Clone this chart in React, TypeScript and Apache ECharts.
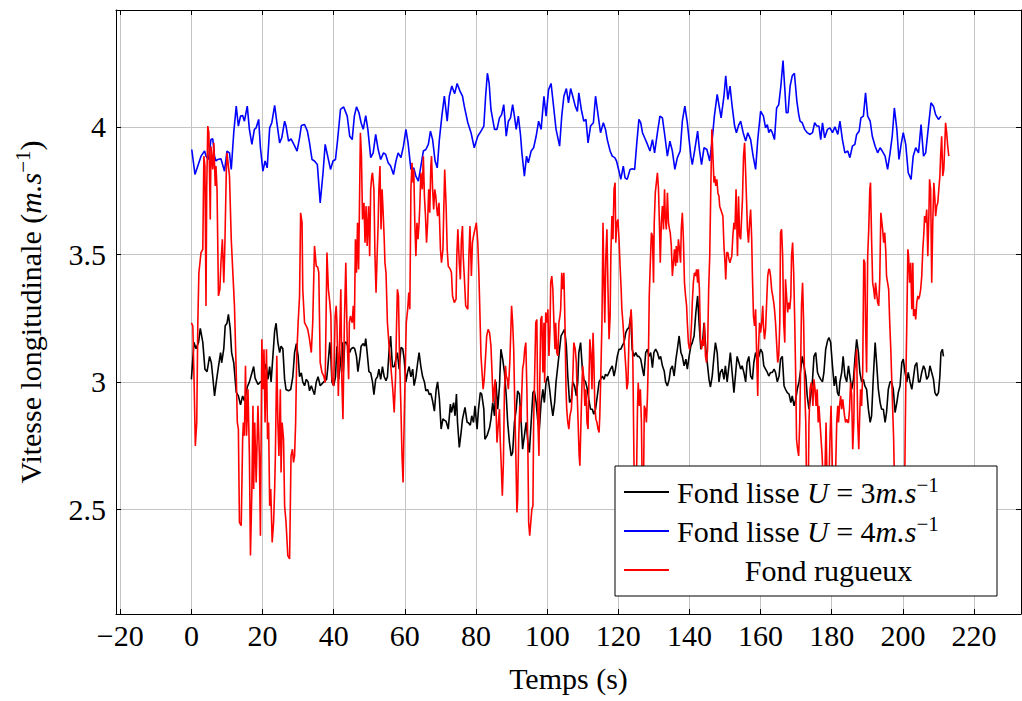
import React, { useEffect, useRef } from 'react';
import * as echarts from 'echarts';

const FONT = '"Liberation Serif", "DejaVu Serif", serif';

const X_MIN = -21.2;
const X_MAX = 233.2;
const Y_MIN = 2.09;
const Y_MAX = 4.458;
const xTickValues = [-20, 0, 20, 40, 60, 80, 100, 120, 140, 160, 180, 200, 220];
const yTickValues = [2.5, 3, 3.5, 4];

const seriesNames = ['Fond lisse U = 3m.s-1', 'Fond lisse U = 4m.s-1', 'Fond rugueux'];
const legendLabels = [
  'Fond lisse {i|U} = 3{i|m.s}{s|\u22121}',
  'Fond lisse {i|U} = 4{i|m.s}{s|\u22121}',
  '{c|Fond rugueux}',
];
const yAxisTitle = 'Vitesse longitudinale ({i|m.s}{s|\u22121})';
const xAxisTitle = 'Temps (s)';

// Fond lisse U = 3 m/s  [time, velocity]
const smooth3: number[][] = [
[0,3.01],[0.7,3.155],[1.3,3.13],[2.0,3.155],[2.5,3.21],[3.2,3.155],[3.8,3.05],[4.4,3.04],[5.1,3.1],[5.6,3.075],[6.0,3.02],[6.5,2.945],[7.0,3.0],[7.6,3.06],[8.2,3.115],[8.5,3.075],[9.1,3.13],[9.5,3.22],[10.0,3.23],[10.4,3.265],[10.9,3.21],[11.3,3.115],[11.9,3.075],[12.6,2.96],[13.2,2.945],[13.8,2.91],[14.4,2.945],[14.9,2.925],[15.7,2.98],[16.3,3.0],[16.9,3.03],[17.5,3.06],[17.9,3.015],[18.7,2.99],[19.4,3.0],[19.9,3.0],[20.5,3.045],[21.0,3.07],[21.5,3.01],[22.0,3.06],[22.4,3.0],[22.9,3.1],[23.4,3.2],[23.8,3.23],[24.3,3.155],[24.8,3.115],[25.2,3.14],[25.7,3.13],[26.2,3.01],[26.6,2.97],[27.3,2.965],[27.9,2.97],[28.5,3.02],[29.0,3.115],[29.5,3.15],[30.0,3.1],[30.4,3.02],[30.9,3.035],[31.3,3.0],[31.8,2.985],[32.3,3.01],[32.8,3.0],[33.2,2.965],[33.7,2.985],[34.2,2.965],[34.6,2.95],[35.1,3.0],[35.6,3.02],[36.2,2.985],[37.2,3.0],[38.0,3.01],[38.3,3.05],[38.9,3.155],[39.2,3.1],[39.5,3.0],[40.0,2.985],[40.5,3.02],[40.9,3.14],[41.4,3.01],[41.9,3.075],[42.4,3.155],[42.7,3.04],[43.1,3.155],[43.5,3.155],[44.0,3.14],[44.5,3.115],[44.9,3.13],[45.5,3.135],[45.9,3.13],[46.4,3.1],[46.8,3.04],[47.4,3.1],[47.7,3.14],[48.3,3.15],[48.7,3.14],[49.0,3.17],[49.4,3.115],[49.9,3.04],[50.4,3.035],[50.9,3.0],[51.3,2.95],[51.8,3.01],[52.3,3.02],[52.7,3.05],[53.2,3.01],[53.7,3.06],[54.2,3.02],[54.7,3.005],[55.1,3.02],[55.6,3.13],[56.0,3.18],[56.5,3.06],[57.0,3.06],[57.5,3.09],[57.9,3.115],[58.4,3.05],[58.9,3.135],[59.4,3.13],[59.8,3.09],[60.3,3.0],[60.8,3.04],[61.2,3.06],[61.7,3.02],[62.2,3.05],[62.6,2.985],[63.1,3.02],[63.6,3.075],[64.0,3.115],[64.5,3.06],[65.0,3.02],[65.5,3.0],[65.9,2.965],[66.4,2.97],[66.9,2.95],[67.3,2.955],[67.8,2.925],[68.3,2.885],[68.8,2.97],[69.2,3.0],[69.7,2.935],[70.2,2.815],[70.7,2.855],[71.1,2.85],[71.6,2.845],[72.2,2.815],[72.8,2.913],[73.1,2.88],[73.7,2.919],[74.1,2.867],[74.5,2.952],[74.8,2.841],[75.3,2.743],[75.8,2.8],[76.2,2.854],[76.9,2.9],[77.5,2.841],[77.8,2.841],[78.4,2.83],[78.8,2.867],[79.3,2.841],[79.7,2.906],[80.3,2.815],[80.7,2.893],[81.2,2.958],[81.6,2.952],[82.2,2.893],[82.5,2.775],[83.1,2.789],[83.8,2.82],[84.2,2.854],[84.7,2.919],[85.2,2.867],[85.6,3.0],[86.1,2.893],[86.6,2.984],[87.0,3.128],[87.5,3.089],[88.0,3.037],[88.5,2.945],[88.9,2.841],[89.4,2.762],[89.9,2.71],[90.3,2.723],[90.8,2.841],[91.3,2.893],[91.7,2.965],[92.2,2.952],[92.7,2.841],[93.1,2.736],[93.6,2.789],[94.1,2.841],[94.6,2.762],[95.0,2.723],[95.5,2.841],[96.0,2.958],[96.4,2.965],[96.9,2.919],[97.4,2.841],[97.8,2.815],[98.3,2.919],[98.8,2.971],[99.2,2.919],[99.7,3.0],[100.2,3.023],[100.7,2.971],[101.1,2.919],[101.6,2.867],[102.1,2.919],[102.5,3.0],[103.0,3.063],[103.5,3.128],[103.9,3.18],[104.4,3.193],[104.9,3.206],[105.4,3.141],[105.8,3.023],[106.3,2.919],[106.8,2.932],[107.2,3.0],[107.7,2.984],[108.2,2.945],[108.6,3.0],[108.9,3.115],[109.4,3.154],[109.9,3.05],[110.3,3.01],[110.8,3.0],[111.3,2.971],[111.7,2.932],[112.2,2.893],[112.7,2.893],[113.1,2.873],[113.6,2.893],[114.1,2.945],[114.6,3.0],[115.0,3.01],[115.5,3.023],[116.0,3.01],[116.4,3.03],[116.9,3.023],[117.4,3.037],[117.8,3.05],[118.3,3.063],[118.8,3.023],[119.2,3.05],[119.7,3.1],[120.2,3.128],[120.7,3.128],[121.1,3.141],[121.6,3.154],[122.1,3.193],[122.5,3.206],[123.0,3.213],[123.5,3.258],[123.9,3.128],[124.4,3.1],[124.9,3.115],[125.4,3.1],[125.8,3.1],[126.3,3.089],[126.8,3.05],[127.2,3.023],[127.7,3.115],[128.2,3.128],[128.6,3.1],[129.1,3.115],[129.6,3.056],[130.0,3.115],[130.5,3.128],[131.0,3.115],[131.5,3.089],[131.9,3.1],[132.4,3.063],[132.9,3.043],[133.3,3.0],[133.8,2.984],[134.3,3.01],[134.7,3.05],[135.2,3.063],[135.7,3.023],[136.2,3.089],[136.6,3.128],[137.1,3.18],[137.6,3.115],[138.0,3.1],[138.5,3.063],[139.0,3.089],[139.4,3.05],[139.9,3.1],[140.4,3.141],[140.8,3.154],[141.3,3.18],[141.8,3.272],[142.3,3.337],[142.7,3.232],[143.2,3.128],[143.7,3.154],[144.1,3.232],[144.6,3.128],[145.1,3.063],[145.5,3.01],[145.9,2.98],[146.4,3.023],[146.9,3.1],[147.3,3.154],[147.8,3.115],[148.3,3.0],[148.7,3.037],[149.2,3.05],[149.7,3.01],[150.1,3.063],[150.6,3.0],[151.1,3.063],[151.5,3.115],[152.0,3.037],[152.5,2.958],[153.0,3.037],[153.4,3.1],[153.9,3.076],[154.4,3.05],[154.8,3.063],[155.3,3.037],[155.8,3.0],[156.2,3.076],[156.7,3.1],[157.2,3.023],[157.7,3.01],[158.1,3.076],[158.6,3.115],[159.1,3.089],[159.5,3.1],[160.0,3.128],[160.5,3.115],[160.9,3.063],[161.4,3.05],[161.9,3.037],[162.3,3.023],[162.8,3.037],[163.3,3.037],[163.8,3.05],[164.2,3.037],[164.7,3.0],[165.2,3.023],[165.6,3.089],[166.1,3.1],[166.6,2.984],[167.0,2.971],[167.5,2.958],[168.0,2.952],[168.5,2.919],[168.9,2.945],[169.4,2.906],[169.9,2.932],[170.3,2.971],[170.8,3.0],[171.3,3.05],[171.7,3.1],[172.2,3.063],[172.7,3.023],[173.1,2.945],[173.6,2.893],[174.1,2.945],[174.6,3.01],[175.0,3.1],[175.5,3.115],[176.0,3.037],[176.4,3.023],[176.9,3.01],[177.4,3.0],[177.8,3.037],[178.3,3.128],[178.8,3.16],[179.2,3.174],[179.7,3.154],[180.2,3.063],[180.7,2.984],[181.1,3.023],[181.6,2.958],[182.0,2.945],[182.3,3.0],[182.8,3.037],[183.2,3.1],[183.7,3.023],[184.2,3.0],[184.7,3.063],[185.1,3.023],[185.6,2.971],[186.1,3.01],[186.5,3.089],[187.0,3.167],[187.5,3.115],[187.9,3.037],[188.4,3.0],[188.9,3.01],[189.3,2.984],[189.8,2.971],[190.3,2.893],[190.8,2.841],[191.2,2.867],[191.7,3.023],[192.2,3.154],[192.6,3.076],[193.1,2.971],[193.6,2.919],[194.0,2.893],[194.5,2.893],[195.0,2.841],[195.4,2.88],[195.9,2.971],[196.4,3.0],[196.8,3.0],[197.3,2.971],[197.8,2.88],[198.3,2.919],[198.7,2.958],[199.2,2.984],[199.7,3.076],[200.1,3.089],[200.6,3.037],[201.1,3.0],[201.5,3.037],[202.0,3.0],[202.5,2.971],[202.9,3.01],[203.4,3.063],[203.9,3.076],[204.4,3.0],[204.8,3.0],[205.3,3.037],[205.8,3.063],[206.2,3.05],[206.7,3.01],[207.2,3.023],[207.6,3.063],[208.1,3.037],[208.6,3.01],[209.0,2.958],[209.5,2.945],[210.0,2.958],[210.4,3.023],[210.7,3.115],[211.1,3.128],[211.4,3.1]
];

// Fond lisse U = 4 m/s  [time, velocity]
const smooth4: number[][] = [
[0.1,3.911],[1.0,3.813],[2.7,3.885],[3.7,3.905],[4.1,3.885],[4.8,3.872],[5.5,3.95],[6.0,3.953],[6.5,3.885],[6.9,3.866],[7.4,3.872],[8.3,3.875],[9.3,3.826],[10.0,3.905],[10.7,3.898],[11.2,3.833],[11.9,3.977],[12.6,4.081],[13.2,4.003],[13.8,4.042],[14.4,4.044],[14.9,4.022],[15.7,4.081],[16.3,3.99],[17.0,3.931],[17.7,3.99],[18.2,3.996],[18.9,4.029],[19.4,3.918],[20.1,3.826],[20.7,3.866],[21.3,3.839],[22.0,3.996],[22.6,4.016],[23.4,4.084],[24.1,4.009],[24.8,3.937],[25.4,3.957],[26.2,4.022],[26.6,4.003],[27.3,3.944],[28.0,3.953],[28.8,3.931],[29.7,3.905],[30.4,3.957],[30.9,4.005],[31.8,4.009],[32.6,3.983],[33.2,3.937],[33.9,3.872],[34.6,3.866],[35.4,3.852],[36.2,3.702],[37.0,3.82],[37.6,3.931],[38.3,3.885],[39.1,3.833],[39.8,3.866],[40.5,3.872],[41.1,3.95],[41.9,4.068],[42.8,4.078],[43.8,4.042],[44.5,3.963],[45.2,3.95],[45.8,4.042],[46.4,4.078],[47.1,4.055],[47.7,4.016],[48.3,3.99],[49.0,4.044],[49.6,3.99],[50.4,3.879],[51.1,3.898],[51.8,3.97],[52.5,3.911],[53.2,3.872],[54.0,3.898],[54.6,3.892],[55.3,3.859],[56.0,3.846],[56.8,3.813],[57.5,3.866],[58.1,3.898],[58.9,3.879],[59.6,3.924],[60.3,3.99],[60.9,3.937],[61.7,3.833],[62.5,3.839],[63.1,3.807],[63.8,3.787],[64.5,3.846],[65.2,3.905],[65.9,3.911],[66.6,3.931],[67.2,3.983],[67.8,3.95],[68.5,3.866],[69.1,3.839],[69.7,3.95],[70.4,4.042],[71.1,4.12],[71.9,4.022],[72.5,4.12],[73.2,4.16],[74.0,4.13],[74.7,4.17],[75.5,4.14],[76.2,4.12],[76.7,4.081],[77.7,4.016],[78.6,3.977],[79.5,3.918],[80.5,3.963],[81.4,3.983],[82.2,4.003],[82.7,4.12],[83.2,4.21],[83.7,4.17],[84.2,4.068],[85.2,3.99],[85.9,3.99],[86.6,4.035],[87.2,4.048],[87.8,4.087],[88.5,3.963],[89.1,4.022],[89.7,4.035],[90.3,4.087],[90.8,4.042],[91.3,3.99],[91.9,4.042],[92.5,3.97],[92.9,3.898],[93.6,3.807],[94.2,3.885],[94.7,3.859],[95.5,3.905],[96.2,3.918],[96.9,3.963],[97.6,4.022],[98.3,3.99],[99.1,4.12],[99.7,4.042],[100.4,4.146],[101.1,4.17],[101.9,4.068],[102.5,3.99],[103.5,3.924],[104.1,4.042],[104.7,4.12],[105.4,4.15],[106.0,4.094],[106.6,4.15],[107.2,4.12],[107.9,4.081],[108.5,4.06],[108.9,4.133],[109.6,4.068],[110.3,4.022],[110.9,4.029],[111.5,3.937],[112.2,4.003],[113.0,4.016],[113.6,4.12],[114.3,4.048],[115.0,3.977],[115.8,4.016],[116.4,3.99],[116.9,3.95],[117.7,3.905],[118.3,3.885],[119.0,3.879],[119.5,3.866],[120.2,3.826],[120.7,3.794],[121.4,3.846],[121.9,3.8],[122.5,3.794],[123.3,3.833],[123.9,3.836],[124.6,3.833],[125.2,3.937],[125.8,4.029],[126.3,4.016],[126.8,3.977],[127.4,3.957],[128.2,3.931],[128.9,3.905],[129.6,3.95],[130.2,3.898],[131.0,3.977],[131.7,4.042],[132.4,4.035],[133.1,3.963],[133.8,3.885],[134.5,3.944],[135.2,3.905],[135.9,3.833],[136.6,3.879],[137.4,3.905],[138.0,4.022],[138.7,4.081],[139.4,4.016],[139.9,3.95],[140.4,3.885],[140.8,3.852],[141.5,3.911],[142.3,3.983],[142.8,3.911],[143.4,3.852],[144.1,3.918],[144.9,3.911],[145.7,3.866],[146.4,3.95],[147.0,4.042],[147.8,4.127],[148.5,4.068],[148.9,4.035],[149.7,4.12],[150.2,4.2],[150.8,4.107],[151.4,4.16],[152.0,4.081],[152.7,4.003],[153.2,3.977],[153.9,4.009],[154.4,4.022],[155.1,3.977],[155.8,3.944],[156.4,3.977],[157.2,3.95],[157.9,3.885],[158.6,3.833],[159.2,3.95],[160.0,4.061],[160.8,4.042],[161.4,3.996],[161.9,4.009],[162.3,3.977],[162.8,3.99],[163.3,3.977],[163.9,3.95],[164.5,4.074],[165.1,4.087],[165.7,4.16],[166.3,4.26],[166.8,4.15],[167.2,4.055],[167.7,4.055],[168.3,4.16],[168.9,4.2],[169.5,4.21],[170.2,4.1],[170.7,4.05],[171.1,4.022],[171.7,4.016],[172.4,3.99],[173.1,3.977],[173.9,3.97],[174.6,3.977],[175.2,4.016],[175.8,4.003],[176.4,4.003],[176.9,3.95],[177.4,4.016],[178.0,3.957],[178.8,3.99],[179.5,3.996],[180.2,3.977],[180.9,4.0],[181.7,3.97],[182.3,4.022],[183.0,3.95],[183.7,3.898],[184.5,3.905],[185.1,3.879],[185.8,3.924],[186.5,3.931],[187.0,3.97],[187.7,3.983],[188.2,4.035],[188.9,4.042],[189.5,4.133],[190.1,4.042],[190.8,4.022],[191.4,3.963],[192.2,3.924],[192.9,3.898],[193.6,3.918],[194.2,3.905],[195.0,3.885],[195.7,3.833],[196.4,3.898],[197.0,3.963],[197.6,4.074],[198.3,3.99],[198.9,3.872],[199.5,3.931],[200.1,3.977],[200.8,3.931],[201.5,3.82],[202.3,3.794],[202.9,3.885],[203.6,3.918],[204.4,3.898],[205.1,4.009],[205.8,3.885],[206.4,3.898],[207.2,4.003],[207.9,4.094],[208.6,4.081],[209.2,4.048],[210.0,4.029],[210.7,4.042]
];

// Fond rugueux  [time, velocity]
const rough: number[][] = [
[0.0,3.232],[0.4,3.219],[0.8,2.971],[1.1,2.749],[1.5,2.841],[1.8,3.232],[2.1,3.428],[2.4,3.467],[2.7,3.507],[3.2,3.52],[3.5,3.885],[3.8,3.846],[4.1,3.298],[4.3,3.755],[4.6,4.003],[4.9,3.977],[5.3,3.637],[5.5,3.924],[6.0,3.833],[6.3,3.937],[6.7,3.768],[6.9,3.846],[7.2,3.755],[7.6,3.337],[8.0,3.363],[8.3,3.467],[8.7,3.559],[9.1,3.389],[9.4,3.533],[9.8,3.82],[10.0,3.898],[10.3,3.859],[10.7,3.807],[11.2,3.559],[11.6,3.441],[12.1,3.298],[12.6,3.037],[12.9,2.841],[13.2,2.815],[13.5,2.449],[14.0,2.436],[14.4,2.775],[14.6,2.841],[14.9,2.789],[15.2,3.063],[15.5,2.789],[15.9,2.971],[16.3,2.71],[16.6,2.319],[17.0,2.58],[17.3,2.906],[17.5,2.58],[17.8,2.841],[18.2,2.606],[18.7,2.906],[19.1,2.71],[19.4,2.397],[19.8,3.167],[20.1,2.971],[20.4,3.128],[20.7,2.841],[21.1,3.128],[21.4,2.775],[21.7,2.841],[22.0,2.514],[22.3,2.58],[22.7,2.371],[23.1,2.449],[23.4,2.58],[23.6,2.71],[24.0,3.102],[24.3,2.841],[24.6,2.71],[25.0,2.971],[25.2,2.645],[25.5,2.841],[25.9,2.775],[26.2,2.514],[26.6,2.449],[27.1,2.319],[27.6,2.306],[28.0,2.71],[28.4,2.736],[28.7,2.684],[29.0,2.71],[29.3,2.841],[29.6,3.102],[30.0,3.232],[30.4,3.337],[30.7,3.663],[31.1,3.624],[31.3,3.363],[31.8,3.232],[32.3,3.219],[32.7,3.206],[33.2,3.167],[33.7,3.115],[34.1,3.232],[34.6,3.533],[35.1,3.454],[35.5,3.45],[35.8,3.428],[36.2,3.076],[36.7,3.037],[37.2,3.023],[37.6,2.997],[38.1,3.507],[38.5,3.363],[38.9,3.311],[39.2,3.258],[39.5,3.01],[40.0,2.984],[40.4,3.258],[40.7,3.298],[40.9,3.232],[41.3,2.945],[41.7,3.193],[42.0,3.363],[42.3,2.997],[42.6,2.854],[43.0,3.232],[43.4,3.467],[43.8,3.154],[44.2,3.01],[44.4,3.232],[44.7,3.258],[45.2,3.232],[45.5,3.298],[45.8,3.206],[46.1,3.559],[46.4,3.428],[46.7,3.624],[47.0,3.441],[47.3,3.755],[47.5,3.977],[47.8,3.885],[48.1,3.637],[48.5,3.702],[48.8,3.546],[49.1,3.689],[49.4,3.533],[49.8,3.689],[50.1,3.493],[50.4,3.755],[50.7,3.807],[50.9,3.82],[51.3,3.755],[51.6,3.493],[51.9,3.35],[52.2,3.493],[52.5,3.624],[52.7,3.755],[53.0,3.846],[53.3,3.598],[53.6,3.755],[53.9,3.663],[54.2,3.559],[54.4,3.467],[54.7,3.428],[55.1,3.232],[55.5,3.154],[55.8,3.102],[56.2,3.037],[56.6,2.971],[57.0,2.88],[57.4,3.023],[57.6,3.18],[57.9,3.363],[58.2,3.337],[58.5,3.102],[58.9,2.893],[59.2,2.71],[59.5,2.606],[59.8,2.841],[60.1,3.037],[60.4,3.232],[60.8,3.285],[61.1,3.35],[61.4,3.285],[61.7,3.755],[62.0,3.859],[62.3,3.781],[62.5,3.833],[62.8,3.624],[63.1,3.493],[63.4,3.624],[63.7,3.559],[64.0,3.624],[64.2,3.689],[64.5,3.82],[64.9,3.755],[65.2,3.885],[65.5,3.728],[65.8,3.65],[66.1,3.546],[66.4,3.624],[66.7,3.755],[67.0,3.663],[67.3,3.846],[67.5,3.885],[67.8,3.755],[68.1,3.676],[68.4,3.755],[68.7,3.728],[69.0,3.676],[69.2,3.65],[69.6,3.702],[70.0,3.52],[70.3,3.467],[70.7,3.52],[70.9,3.65],[71.2,3.833],[71.6,3.689],[71.9,3.52],[72.2,3.454],[72.8,3.441],[73.1,3.428],[73.4,3.337],[73.9,3.311],[74.4,3.324],[74.6,3.493],[74.9,3.598],[75.3,3.467],[75.6,3.402],[75.9,3.559],[76.2,3.611],[76.4,3.493],[76.7,3.415],[77.1,3.298],[77.7,3.285],[78.0,3.493],[78.3,3.611],[78.7,3.415],[79.0,3.546],[79.3,3.572],[79.7,3.598],[80.1,3.624],[80.5,3.546],[80.8,3.428],[81.0,3.324],[81.4,3.102],[81.7,3.037],[82.0,2.971],[82.3,3.01],[82.7,3.102],[83.0,3.18],[83.4,3.206],[83.8,3.193],[84.2,3.141],[84.5,3.037],[84.8,2.919],[85.1,2.971],[85.4,3.01],[85.6,2.906],[85.9,2.762],[86.3,2.841],[86.6,2.893],[86.8,2.775],[87.1,2.671],[87.4,2.554],[87.7,2.684],[88.0,2.971],[88.3,3.063],[88.5,3.023],[88.8,3.01],[89.1,2.971],[89.5,3.076],[89.8,3.206],[90.0,3.298],[90.3,3.232],[90.6,3.128],[90.9,2.906],[91.2,2.71],[91.5,2.488],[91.7,2.54],[92.0,2.775],[92.3,2.906],[92.6,2.841],[92.9,2.971],[93.1,3.05],[93.4,3.076],[93.7,3.128],[94.0,3.154],[94.3,2.971],[94.6,2.71],[94.8,2.449],[95.1,2.397],[95.4,2.449],[95.7,2.501],[96.0,2.514],[96.2,2.841],[96.5,3.037],[96.8,3.232],[97.1,3.245],[97.4,2.841],[97.7,2.71],[97.9,2.971],[98.2,3.245],[98.5,3.258],[98.8,3.037],[99.1,3.232],[99.3,2.997],[99.6,3.272],[99.9,3.232],[100.2,3.285],[100.5,3.102],[100.8,3.206],[101.0,3.389],[101.3,3.415],[101.6,3.363],[101.9,3.232],[102.2,3.128],[102.4,3.232],[102.7,3.115],[103.0,3.102],[103.3,3.232],[103.6,3.258],[103.8,3.285],[104.1,3.428],[104.4,3.363],[104.7,3.428],[105.0,3.232],[105.3,2.971],[105.5,2.893],[105.8,2.841],[106.1,2.815],[106.4,2.867],[106.8,2.893],[107.1,2.971],[107.5,3.154],[107.9,3.128],[108.2,3.076],[108.4,2.971],[108.7,2.841],[109.0,2.71],[109.2,2.671],[109.5,2.841],[109.8,2.997],[110.0,3.063],[110.3,3.01],[110.6,2.906],[110.9,2.971],[111.2,2.841],[111.5,2.815],[111.7,2.971],[112.0,3.167],[112.3,3.115],[112.6,2.971],[112.9,3.193],[113.1,3.102],[113.4,2.906],[113.7,2.854],[114.0,2.841],[114.3,2.815],[114.6,2.802],[114.8,2.867],[115.1,3.037],[115.4,3.232],[115.7,3.624],[116.0,3.363],[116.2,3.232],[116.5,3.493],[116.8,3.598],[117.1,3.363],[117.4,3.167],[117.7,3.258],[117.9,3.493],[118.2,3.65],[118.5,3.559],[118.8,3.755],[119.1,3.781],[119.3,3.546],[119.6,3.624],[119.9,3.637],[120.2,3.559],[120.5,3.454],[120.8,3.363],[121.0,3.285],[121.3,3.232],[121.6,3.167],[121.9,3.102],[122.2,3.037],[122.4,2.971],[122.7,2.997],[123.0,3.167],[123.3,3.232],[123.6,3.285],[123.8,3.232],[124.1,3.076],[124.4,2.697],[124.7,2.45],[125.0,2.5],[125.4,2.906],[125.6,2.997],[125.9,2.906],[126.2,2.971],[126.5,2.841],[126.8,2.5],[127.0,2.45],[127.3,2.906],[127.6,2.893],[127.9,2.841],[128.2,2.945],[128.5,3.128],[128.7,3.337],[129.0,3.467],[129.3,3.585],[129.6,3.572],[129.9,3.389],[130.1,3.624],[130.4,3.741],[130.7,3.781],[131.0,3.82],[131.3,3.755],[131.6,3.598],[131.8,3.467],[132.1,3.624],[132.4,3.689],[132.7,3.598],[133.0,3.755],[133.2,3.65],[133.5,3.598],[133.8,3.741],[134.1,3.624],[134.4,3.598],[134.6,3.585],[134.9,3.533],[135.2,3.415],[135.5,3.467],[135.8,3.52],[136.1,3.454],[136.3,3.533],[136.6,3.467],[136.9,3.559],[137.2,3.52],[137.5,3.467],[137.7,3.598],[138.0,3.663],[138.3,3.559],[138.6,3.389],[138.9,3.337],[139.2,3.298],[139.4,3.232],[139.7,3.154],[140.0,3.128],[140.3,3.154],[140.6,3.232],[140.8,3.311],[141.1,3.389],[141.4,3.428],[141.7,3.415],[142.0,3.441],[142.3,3.389],[142.5,3.441],[142.8,3.363],[143.1,3.167],[143.4,3.128],[143.7,3.167],[143.9,3.141],[144.2,3.232],[144.5,3.102],[144.8,3.076],[145.1,3.128],[145.4,3.363],[145.7,3.493],[146.0,3.755],[146.3,3.99],[146.6,3.885],[146.9,3.781],[147.1,3.807],[147.4,3.768],[147.7,3.794],[148.0,3.741],[148.3,3.728],[148.5,3.689],[148.8,3.676],[149.1,3.663],[149.4,3.65],[149.7,3.533],[150.0,3.467],[150.2,3.402],[150.5,3.507],[150.8,3.507],[151.1,3.48],[151.4,3.467],[151.6,3.48],[151.9,3.493],[152.2,3.572],[152.5,3.624],[152.8,3.598],[153.1,3.755],[153.3,3.624],[153.5,3.493],[153.8,3.728],[154.1,3.572],[154.4,3.559],[154.6,3.624],[154.9,3.715],[155.2,3.885],[155.5,3.937],[155.8,3.82],[156.1,3.689],[156.3,3.598],[156.6,3.546],[156.9,3.624],[157.2,3.676],[157.5,3.559],[157.7,3.415],[158.0,3.258],[158.3,3.219],[158.6,3.285],[158.9,3.102],[159.2,2.945],[159.4,3.128],[159.7,3.232],[160.0,3.193],[160.3,3.232],[160.6,3.298],[160.8,3.219],[161.1,3.167],[161.4,3.206],[161.7,3.311],[162.0,3.415],[162.3,3.441],[162.5,3.441],[162.8,3.415],[163.1,3.363],[163.4,3.337],[163.7,3.311],[163.9,3.285],[164.2,3.232],[164.5,3.154],[164.8,3.076],[165.1,3.102],[165.4,3.232],[165.6,3.585],[165.9,3.598],[166.2,3.493],[166.5,3.232],[166.8,3.154],[167.0,3.402],[167.3,3.337],[167.6,3.272],[167.9,3.311],[168.2,3.285],[168.5,3.337],[168.7,3.493],[169.0,3.546],[169.3,3.428],[169.6,3.232],[169.9,2.997],[170.1,2.775],[170.4,2.736],[170.7,2.71],[171.0,2.841],[171.3,3.102],[171.5,3.298],[171.8,3.389],[172.1,3.232],[172.4,2.971],[172.7,2.841],[173.0,2.5],[173.3,2.45],[173.6,2.841],[173.9,2.971],[174.2,2.997],[174.5,2.971],[174.7,2.906],[175.0,3.01],[175.3,2.971],[175.6,2.906],[175.9,2.971],[176.2,2.841],[176.4,2.906],[176.7,2.841],[177.0,2.775],[177.3,2.71],[177.6,2.6],[177.8,2.5],[178.1,2.65],[178.4,2.841],[178.7,2.6],[179.0,2.45],[179.2,2.6],[179.5,2.775],[179.8,2.906],[180.1,2.71],[180.4,2.5],[180.7,2.45],[181.0,2.6],[181.4,2.841],[181.7,2.906],[181.9,2.841],[182.2,2.906],[182.5,2.945],[182.8,2.893],[183.1,2.932],[183.3,2.906],[183.6,2.867],[183.9,2.841],[184.2,2.854],[184.5,2.841],[184.7,2.841],[185.0,2.893],[185.3,2.997],[185.6,2.945],[185.9,2.736],[186.2,2.841],[186.4,3.037],[186.7,3.076],[187.0,3.128],[187.3,2.841],[187.6,2.736],[187.8,2.841],[188.1,2.971],[188.4,2.906],[188.7,3.037],[189.0,3.48],[189.3,3.467],[189.5,3.232],[189.8,3.037],[190.1,3.493],[190.4,3.598],[190.7,3.755],[190.9,3.781],[191.2,3.559],[191.5,3.389],[191.8,3.363],[192.1,3.324],[192.3,3.389],[192.6,3.35],[192.9,3.311],[193.2,3.298],[193.5,3.402],[193.8,3.663],[194.0,3.637],[194.3,3.598],[194.6,3.546],[194.9,3.585],[195.2,3.507],[195.4,3.415],[195.7,3.389],[196.0,3.363],[196.3,3.232],[196.6,3.128],[196.8,3.037],[197.1,2.906],[197.4,2.775],[197.7,2.55],[198.0,2.45],[198.5,2.4],[199.1,2.45],[199.7,2.4],[200.2,2.5],[200.5,2.6],[200.8,2.971],[201.1,3.232],[201.4,3.52],[201.6,3.493],[201.9,3.389],[202.2,3.467],[202.5,3.285],[202.8,3.467],[203.0,3.258],[203.3,3.285],[203.6,3.245],[203.9,3.311],[204.2,3.337],[204.4,3.324],[204.7,3.337],[205.0,3.363],[205.3,3.415],[205.6,3.52],[205.9,3.585],[206.1,3.65],[206.4,3.624],[206.7,3.676],[207.0,3.493],[207.3,3.65],[207.5,3.794],[207.8,3.755],[208.1,3.389],[208.4,3.624],[208.7,3.781],[209.0,3.715],[209.2,3.65],[209.5,3.689],[209.8,3.702],[210.1,3.755],[210.4,3.807],[210.6,3.885],[210.9,3.963],[211.2,3.807],[211.5,3.833],[211.8,3.937],[212.0,4.016],[212.3,3.977],[212.6,3.924],[212.9,3.885]
];

const seriesData = [smooth3, smooth4, rough];
const seriesColors = ['#000000', '#0000ff', '#ff0000'];

function xLabel(v: number): string {
  const r = Math.round(v);
  return r < 0 ? '\u2212' + Math.abs(r) : String(r);
}
function yLabel(v: number): string {
  return String(Math.round(v * 10) / 10);
}

const richStyles = {
  i: { fontFamily: FONT, fontSize: 30, fontStyle: 'italic', color: '#000', lineHeight: 36 },
  s: { fontFamily: FONT, fontSize: 21, color: '#000', verticalAlign: 'top', lineHeight: 20 },
  c: { fontFamily: FONT, fontSize: 30, color: '#000', width: 303, align: 'center', lineHeight: 36 },
};

export default function App() {
  const ref = useRef<HTMLDivElement>(null);
  useEffect(() => {
    if (!ref.current) return;
    const chart = echarts.init(ref.current, undefined, { renderer: 'svg' });
    const labelMap: Record<string, string> = {};
    seriesNames.forEach((n, i) => (labelMap[n] = legendLabels[i]));
    const axisLineStyle = { show: true, onZero: false, lineStyle: { color: '#000', width: 1 } };
    const tickStyle = (vals: number[]) => ({
      show: true,
      inside: true,
      length: 5,
      customValues: vals,
      lineStyle: { color: '#000', width: 1 },
    });
    const option: any = {
      animation: false,
      backgroundColor: '#ffffff',
      grid: { left: 116, top: 10, right: 1, bottom: 87, containLabel: false },
      legend: {
        orient: 'vertical',
        left: 615,
        top: 466,
        z: 20,
        backgroundColor: '#ffffff',
        borderColor: '#000',
        borderWidth: 1,
        borderRadius: 0,
        padding: [8, 17, 8, 9],
        itemGap: 3,
        itemWidth: 45,
        itemHeight: 2,
        icon: 'rect',
        data: seriesNames,
        formatter: (name: string) => labelMap[name],
        textStyle: {
          fontFamily: FONT,
          fontSize: 30,
          color: '#000',
          lineHeight: 36,
          width: 303,
          padding: [0, 0, 0, 3],
          rich: richStyles,
        },
      },
      xAxis: [
        {
          type: 'value',
          position: 'bottom',
          min: X_MIN,
          max: X_MAX,
          splitNumber: 13,
          axisLine: axisLineStyle,
          axisTick: tickStyle(xTickValues),
          axisLabel: {
            customValues: xTickValues,
            margin: 6,
            fontFamily: FONT,
            fontSize: 30,
            color: '#000',
            formatter: xLabel,
          },
          splitLine: { show: true, lineStyle: { color: '#c4c4c4', width: 1 } },
          name: xAxisTitle,
          nameLocation: 'middle',
          nameGap: 49,
          nameTextStyle: { fontFamily: FONT, fontSize: 30, color: '#000' },
        },
        {
          type: 'value',
          position: 'top',
          min: X_MIN,
          max: X_MAX,
          splitNumber: 13,
          axisLine: axisLineStyle,
          axisTick: tickStyle(xTickValues),
          axisLabel: { show: false },
          splitLine: { show: false },
        },
      ],
      yAxis: [
        {
          type: 'value',
          position: 'left',
          min: Y_MIN,
          max: Y_MAX,
          splitNumber: 5,
          axisLine: axisLineStyle,
          axisTick: tickStyle(yTickValues),
          axisLabel: {
            customValues: yTickValues,
            margin: 10,
            fontFamily: FONT,
            fontSize: 30,
            color: '#000',
            formatter: yLabel,
          },
          splitLine: { show: true, lineStyle: { color: '#c4c4c4', width: 1 } },
          name: yAxisTitle,
          nameLocation: 'middle',
          nameRotate: 90,
          nameGap: 68,
          nameTextStyle: { fontFamily: FONT, fontSize: 30, color: '#000', lineHeight: 36, rich: richStyles },
        },
        {
          type: 'value',
          position: 'right',
          min: Y_MIN,
          max: Y_MAX,
          splitNumber: 5,
          axisLine: axisLineStyle,
          axisTick: tickStyle(yTickValues),
          axisLabel: { show: false },
          splitLine: { show: false },
        },
      ],
      series: seriesNames.map((name, i) => ({
        name,
        type: 'line',
        data: seriesData[i],
        color: seriesColors[i],
        showSymbol: false,
        symbol: 'none',
        lineStyle: { color: seriesColors[i], width: 1.6 },
        clip: true,
      })),
    };
    chart.setOption(option);
    return () => chart.dispose();
  }, []);
  return (
    <div
      ref={ref}
      style={{ position: 'fixed', left: 0, top: 0, width: 1022, height: 701, background: '#fff' }}
    />
  );
}
